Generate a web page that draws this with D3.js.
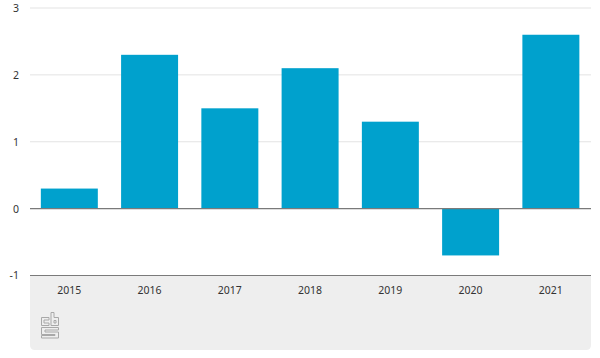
<!DOCTYPE html>
<html>
<head>
<meta charset="utf-8">
<script src="https://cdn.jsdelivr.net/npm/d3@7"></script>
<style>
    html, body { margin: 0; padding: 0; background: #fff; }
    svg { display: block; }
    text { font-family: "Noto Sans", "Open Sans", sans-serif; font-size: 10.5px; fill: #333; }
</style>
</head>
<body>
<div id="chart"></div>
<script>
'use strict';

const years = ['2015', '2016', '2017', '2018', '2019', '2020', '2021'];
const values = [0.3, 2.3, 1.5, 2.1, 1.3, -0.7, 2.6];
const yTicks = [-1, 0, 1, 2, 3];

const width = 600;
const height = 358;
const margin = { top: 8, right: 9, bottom: 82.5, left: 30 };

const xScale = d3.scaleBand()
    .domain(years)
    .range([margin.left - 0.8, width - margin.right])
    .paddingInner(0.29)
    .paddingOuter(0.145);

const yScale = d3.scaleLinear()
    .domain([-1, 3])
    .range([height - margin.bottom, margin.top]);

const svg = d3.select('#chart')
    .append('svg')
    .attr('width', width)
    .attr('height', height);

// grey footer panel behind the year labels
const panelLeft = margin.left;
const panelRight = width - margin.right;
const panelTop = yScale(-1);
const panelBottom = 350;
const panelRadius = 5;

svg.append('path')
    .attr('d', 'M' + panelLeft + ',' + panelTop + 'H' + panelRight
        + 'V' + (panelBottom - panelRadius)
        + 'Q' + panelRight + ',' + panelBottom + ' ' + (panelRight - panelRadius) + ',' + panelBottom
        + 'H' + (panelLeft + panelRadius)
        + 'Q' + panelLeft + ',' + panelBottom + ' ' + panelLeft + ',' + (panelBottom - panelRadius) + 'Z')
    .attr('fill', '#eeeeee');

// grid lines
svg.append('g')
    .selectAll('line')
    .data(yTicks.filter((d) => d > 0))
    .enter()
    .append('line')
    .attr('x1', margin.left)
    .attr('x2', width - margin.right)
    .attr('y1', (d) => yScale(d))
    .attr('y2', (d) => yScale(d))
    .attr('stroke', '#e3e3e3')
    .attr('stroke-width', 1);

// y axis labels
const yAxis = d3.axisLeft(yScale)
    .tickValues(yTicks)
    .tickFormat((d) => d)
    .tickSize(0)
    .tickPadding(11);

svg.append('g')
    .attr('transform', 'translate(' + margin.left + ',0)')
    .call(yAxis)
    .call((g) => g.select('.domain').remove());

// bars
svg.append('g')
    .selectAll('rect')
    .data(values)
    .enter()
    .append('rect')
    .attr('x', (d, i) => xScale(years[i]))
    .attr('y', (d) => yScale(Math.max(d, 0)))
    .attr('width', xScale.bandwidth())
    .attr('height', (d) => Math.abs(yScale(d) - yScale(0)))
    .attr('fill', '#00a1cd');

// zero line and bottom line
svg.append('g')
    .selectAll('line')
    .data([0, -1])
    .enter()
    .append('line')
    .attr('x1', margin.left)
    .attr('x2', width - margin.right)
    .attr('y1', (d) => yScale(d))
    .attr('y2', (d) => yScale(d))
    .attr('stroke', '#7a7a7a')
    .attr('stroke-width', 1.2);

// x axis labels
const xAxis = d3.axisBottom(xScale)
    .tickSize(0)
    .tickPadding(11);

svg.append('g')
    .attr('transform', 'translate(0,' + yScale(-1) + ')')
    .call(xAxis)
    .call((g) => g.select('.domain').remove());

// cbs logo
svg.append('g')
    .attr('transform', 'translate(41,312)')
    .append('path')
    .attr('d', 'M0.5,5.5H8V8H3V11H8V13.5H0.5Z'
        + 'M10,0.5H13V5.5H17.5V13.5H10Z'
        + 'M13,8.5H15V11H13Z'
        + 'M0.5,15.5H17.5V18H4V20H17.5V26H0.5V23.5H14V22.5H0.5Z')
    .attr('fill', 'none')
    .attr('stroke', '#a8a8a8')
    .attr('stroke-width', 1);
</script>
</body>
</html>
